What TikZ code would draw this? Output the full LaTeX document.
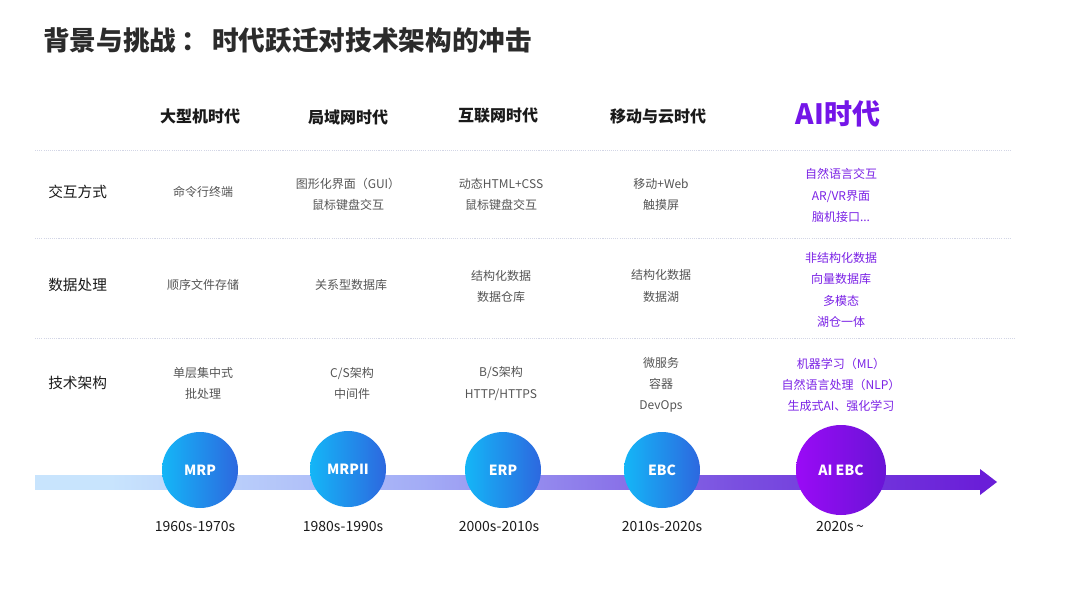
\documentclass[tikz,border=0pt]{standalone}
\usepackage{fontspec}
\setmainfont{Noto Sans CJK SC}
\usetikzlibrary{shapes.geometric}
\definecolor{titlec}{HTML}{2B2B2B}
\definecolor{headc}{HTML}{1A1A1A}
\definecolor{cellc}{HTML}{555555}
\definecolor{aic}{HTML}{7B22E6}
\definecolor{aihead}{HTML}{7415E8}
\definecolor{dotc}{HTML}{D3D6E6}
\definecolor{barL}{HTML}{C8E4FD}
\definecolor{barM}{HTML}{A3ACF6}
\definecolor{barN}{HTML}{7A50E0}
\definecolor{barR}{HTML}{6A1ED8}
\definecolor{cirL}{HTML}{14B6F7}
\definecolor{cirR}{HTML}{2D68DF}
\definecolor{aiL}{HTML}{9A0AF6}
\definecolor{aiR}{HTML}{6914D6}
\pgfdeclarehorizontalshading{barshade}{100bp}{color(0bp)=(barL); color(29bp)=(barL); color(45.5bp)=(barM); color(62bp)=(barN); color(75bp)=(barR); color(100bp)=(barR)}
\tikzset{
  titlestyle/.style={anchor=west, inner sep=0pt, text=titlec, font=\fontsize{20}{22}\selectfont\bfseries},
  headstyle/.style={inner sep=0pt, text=headc, font=\fontsize{12}{14}\selectfont\bfseries},
  rowlabel/.style={anchor=west, inner sep=0pt, text=headc, font=\fontsize{11}{13}\selectfont},
  cell/.style={inner sep=0pt, align=center, text=cellc, font=\fontsize{9}{15.9}\selectfont},
  aicell/.style={cell, text=aic},
  sepline/.style={dotc, line width=0.5pt, dash pattern=on 0.8pt off 0.8pt},
  era/.style={circle, minimum size=57pt, inner sep=0pt, left color=cirL, right color=cirR, text=white, font=\fontsize{10.5}{12}\selectfont\bfseries},
  aiera/.style={era, minimum size=67.5pt, left color=aiL, right color=aiR},
  year/.style={inner sep=0pt, text=headc, font=\fontsize{10.5}{12}\selectfont},
}
\begin{document}
\begin{tikzpicture}[x=0.75pt,y=-0.75pt]
\useasboundingbox (0,0) rectangle (1067,600);
\fill[white] (0,0) rectangle (1067,600);
% title
\node[titlestyle] (title) at (43,40) {背景与挑战\,：\,时代跃迁对技术架构的冲击};
% headers
\node[headstyle] (h1) at (200,116) {大型机时代};
\node[headstyle] (h2) at (348,117) {局域网时代};
\node[headstyle] (h3) at (498,116) {互联网时代};
\node[headstyle] (h4) at (658,116) {移动与云时代};
\node[headstyle, text=aihead, font=\fontsize{21}{24}\selectfont\bfseries] (h5) at (838,114) {AI时代};
% separators
\coordinate (s1a) at (35,150); \coordinate (s1b) at (1010,150);
\coordinate (s2a) at (35,238); \coordinate (s2b) at (1010,238);
\coordinate (s3a) at (35,338); \coordinate (s3b) at (1015,338);
\draw[sepline] (s1a) -- (s1b);
\draw[sepline] (s2a) -- (s2b);
\draw[sepline] (s3a) -- (s3b);
% row labels
\node[rowlabel] (r1) at (48,192) {交互方式};
\node[rowlabel] (r2) at (48,285) {数据处理};
\node[rowlabel] (r3) at (48,383) {技术架构};
% row 1
\node[cell] (c11) at (203,192) {命令行终端};
\node[cell] (c12) at (348,194.5) {图形化界面（GUI）\\鼠标键盘交互};
\node[cell] (c13) at (501,194.5) {动态HTML+CSS\\鼠标键盘交互};
\node[cell] (c14) at (661,194.5) {移动+Web\\触摸屏};
\node[aicell] (c15) at (841,195.5) {自然语言交互\\AR/VR界面\\脑机接口...};
% row 2
\node[cell] (c21) at (203,285) {顺序文件存储};
\node[cell] (c22) at (351,285) {关系型数据库};
\node[cell] (c23) at (501,286.5) {结构化数据\\数据仓库};
\node[cell] (c24) at (661,286) {结构化数据\\数据湖};
\node[aicell] (c25) at (841,290) {非结构化数据\\向量数据库\\多模态\\湖仓一体};
% row 3
\node[cell] (c31) at (203,383.5) {单层集中式\\批处理};
\node[cell] (c32) at (352,383.5) {C/S架构\\中间件};
\node[cell] (c33) at (501,383.5) {B/S架构\\HTTP/HTTPS};
\node[cell] (c34) at (661,385) {微服务\\容器\\DevOps};
\node[aicell] (c35) at (841,385) {机器学习（ML）\\自然语言处理（NLP）\\生成式AI、强化学习};
% timeline
\coordinate (tstart) at (35,482);
\coordinate (tend) at (997,482);
\shade[shading=barshade] (35,475) rectangle (981,489);
\fill[barR] (980,469) -- (tend) -- (980,495) -- cycle;
% era circles
\node[era] (mrp) at (200,470) {MRP};
\node[era] (mrp2) at (348,469) {MRPII};
\node[era] (erp) at (503,470) {ERP};
\node[era] (ebc) at (662,470) {EBC};
\node[aiera] (aiebc) at (841,470) {AI EBC};
% years
\node[year] (y1) at (195,527) {1960s-1970s};
\node[year] (y2) at (343,527) {1980s-1990s};
\node[year] (y3) at (499,527) {2000s-2010s};
\node[year] (y4) at (662,527) {2010s-2020s};
\node[year] (y5) at (840,527) {2020s\,{\textasciitilde}};
\end{tikzpicture}
\end{document}
